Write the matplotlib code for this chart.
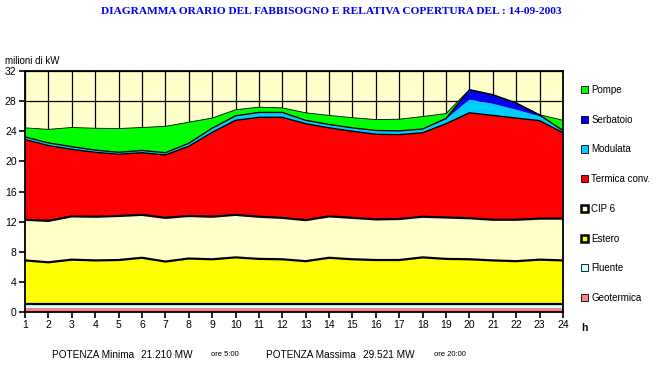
import numpy as np
import matplotlib
matplotlib.use("Agg")
import matplotlib.pyplot as plt
from matplotlib.patches import Patch

plt.rcParams['font.family'] = ['Liberation Sans', 'DejaVu Sans']

hours = list(range(1, 25))

# layer thicknesses, milioni di kW
geotermica = [0.5] * 24
fluente = [0.55] * 24
estero = [5.8, 5.55, 5.9, 5.8, 5.85, 6.15, 5.65, 6.05, 5.95, 6.2, 6.0, 5.95,
          5.7, 6.15, 5.95, 5.85, 5.85, 6.2, 6.0, 5.95, 5.8, 5.7, 5.9, 5.8]
cip6 = [5.4, 5.5, 5.75, 5.8, 5.85, 5.7, 5.8, 5.65, 5.65, 5.65, 5.6, 5.5,
        5.45, 5.5, 5.5, 5.4, 5.45, 5.4, 5.5, 5.45, 5.4, 5.5, 5.45, 5.55]
termica = [10.65, 10.0, 8.9, 8.55, 8.2, 8.25, 8.35, 9.25, 11.2, 12.55, 13.2, 13.35,
           12.8, 11.75, 11.5, 11.3, 11.2, 11.15, 12.45, 14.0, 13.85, 13.5, 13.0, 11.4]
modulata = [0.35, 0.35, 0.35, 0.3, 0.26, 0.3, 0.3, 0.4, 0.55, 0.6, 0.65, 0.65,
            0.45, 0.45, 0.45, 0.5, 0.5, 0.5, 0.6, 1.75, 1.55, 1.1, 0.6, 0.3]
serbatoio = [0, 0, 0, 0, 0, 0, 0, 0, 0, 0, 0, 0,
             0, 0, 0, 0, 0, 0, 0.1, 1.32, 1.2, 0.9, 0.15, 0]
pompe = [1.2, 1.8, 2.55, 2.9, 3.15, 3.05, 3.5, 2.8, 1.35, 0.8, 0.7, 0.6,
         1.0, 1.2, 1.35, 1.45, 1.55, 1.65, 0.65, 0, 0, 0, 0.05, 1.35]

names = ['Geotermica', 'Fluente', 'Estero', 'CIP 6', 'Termica conv.',
         'Modulata', 'Serbatoio', 'Pompe']
colors = ['#FF8080', '#CCFFFF', '#FFFF00', '#FFFFCC', '#FF0000',
          '#00CCFF', '#0000EE', '#00FF00']
layers = [geotermica, fluente, estero, cip6, termica, modulata, serbatoio, pompe]

min_text = ['POTENZA Minima', '21.210 MW', 'ore 5:00']
max_text = ['POTENZA Massima', '29.521 MW', 'ore 20:00']

fig = plt.figure(figsize=(6.59, 3.68), dpi=100)
ax = fig.add_axes([25/659, 56/368, 538/659, 241/368])
ax.set_facecolor('#FFFFCC')

x = np.array(hours)
tops = np.cumsum(np.array(layers, dtype=float), axis=0)
bottoms = np.vstack([np.zeros(24), tops[:-1]])

for i in range(len(layers)):
    ax.fill_between(x, bottoms[i], tops[i], facecolor=colors[i], lw=0, zorder=2)

# black boundary lines
ax.plot(x, bottoms[2], color='black', lw=1.6, zorder=3)
ax.plot(x, tops[2], color='black', lw=1.6, zorder=3)
ax.plot(x, tops[3], color='black', lw=1.6, zorder=3)
ax.plot(x, tops[4], color='black', lw=1.0, zorder=3)
ax.plot(x, tops[6], color='black', lw=1.0, zorder=3)
ax.plot(x, tops[7], color='black', lw=0.6, zorder=3)

ax.set_xlim(1, 24)
ax.set_ylim(0, 32)
ax.set_xticks(hours)
ax.set_yticks(range(0, 33, 4))
ax.grid(True, color='black', lw=0.9)
ax.set_axisbelow(True)
ax.tick_params(direction='out', length=4, width=1.2, labelsize=7.5, pad=2)
for s in ax.spines.values():
    s.set_linewidth(1.3)
    s.set_zorder(5)

fig.text(5/659, 1 - 61/368, 'milioni di kW', fontsize=7, va='center')
fig.text(581/659, 1 - 328/368, 'h', fontsize=7.5, fontweight='bold', va='center')
fig.text(331/659, 1 - 12/368,
         'DIAGRAMMA ORARIO DEL FABBISOGNO E RELATIVA COPERTURA DEL : 14-09-2003',
         family=['Liberation Serif'], fontweight='bold', fontsize=8.2,
         color='#0000EE', ha='center', va='center')

handles = []
for i in range(len(layers) - 1, -1, -1):
    lw = 1.8 if names[i] in ('CIP 6', 'Estero') else 0.6
    handles.append(Patch(facecolor=colors[i], edgecolor='black', lw=lw, label=names[i]))
fig.legend(handles=handles, loc='upper left', bbox_to_anchor=(577/659, 1 - 81/368),
           frameon=False, fontsize=7, handlelength=0.75, handleheight=0.75,
           handletextpad=0.3, labelspacing=2.03, borderaxespad=0)

fig.text(52/659, 1 - 355/368, min_text[0], fontsize=7.2, va='center')
fig.text(141/659, 1 - 355/368, min_text[1], fontsize=7.2, va='center')
fig.text(211/659, 1 - 355/368, min_text[2], fontsize=5.5, va='center')
fig.text(266/659, 1 - 355/368, max_text[0], fontsize=7.2, va='center')
fig.text(363/659, 1 - 355/368, max_text[1], fontsize=7.2, va='center')
fig.text(434/659, 1 - 355/368, max_text[2], fontsize=5.5, va='center')

fig.savefig('out.png', dpi=100)
